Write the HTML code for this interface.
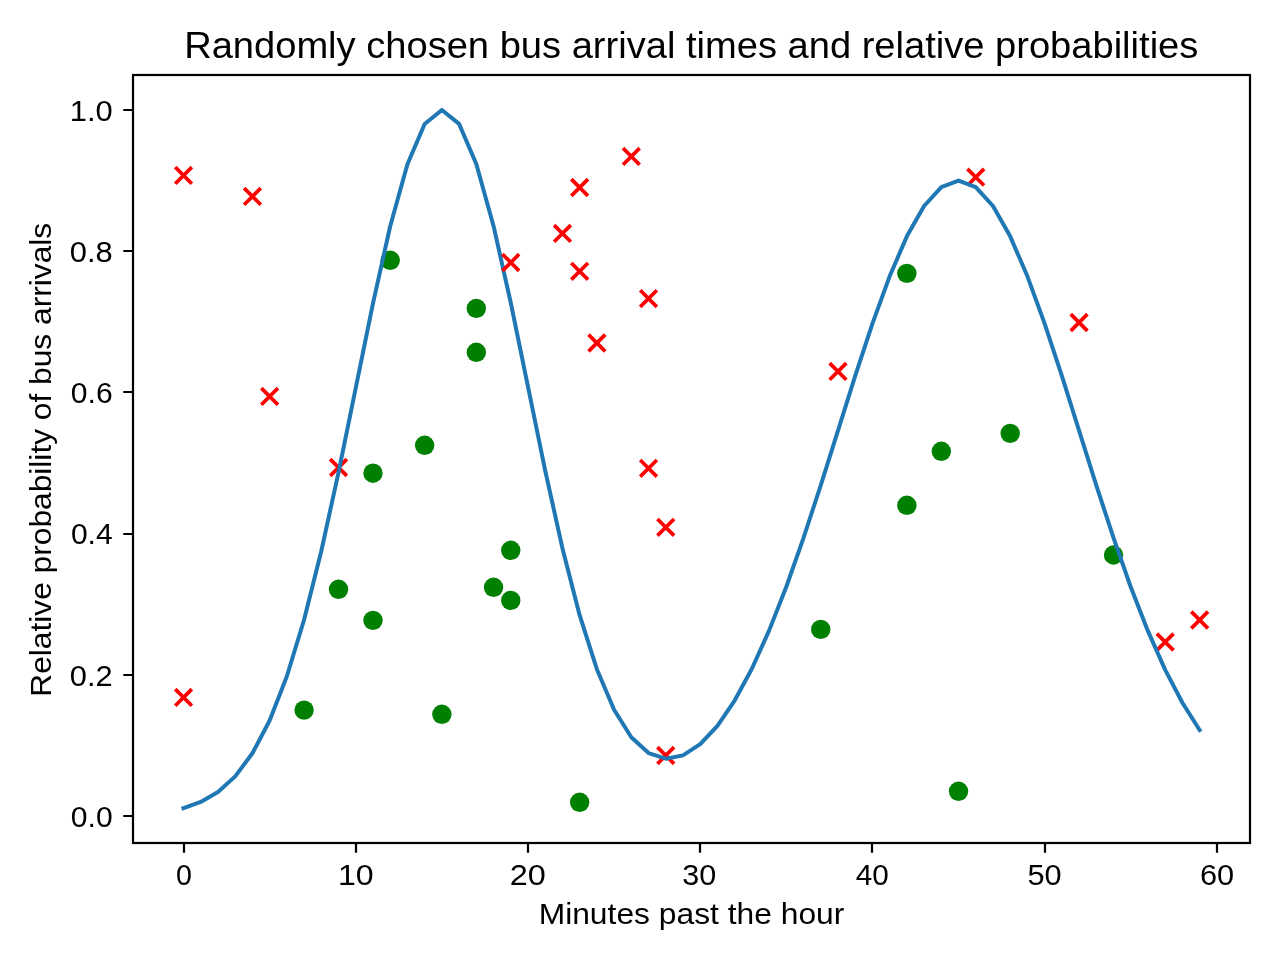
<!DOCTYPE html>
<html><head><meta charset="utf-8"><style>
html,body{margin:0;padding:0;background:#fff;width:1280px;height:960px;overflow:hidden;}
svg{display:block;will-change:transform;}
text{font-family:"Liberation Sans", sans-serif;}
</style></head><body>
<svg width="1280" height="960" viewBox="0 0 1280 960"><rect x="0" y="0" width="1280" height="960" fill="#fff"/><g fill="#008000"><circle cx="304.09" cy="710.1" r="9.7"/><circle cx="338.54" cy="589.3" r="9.7"/><circle cx="372.98" cy="473.2" r="9.7"/><circle cx="372.98" cy="620.4" r="9.7"/><circle cx="390.20" cy="260.3" r="9.7"/><circle cx="424.65" cy="445.3" r="9.7"/><circle cx="441.87" cy="714.3" r="9.7"/><circle cx="476.31" cy="308.4" r="9.7"/><circle cx="476.31" cy="352.3" r="9.7"/><circle cx="493.54" cy="587.3" r="9.7"/><circle cx="510.76" cy="550.3" r="9.7"/><circle cx="510.76" cy="600.4" r="9.7"/><circle cx="579.65" cy="802.3" r="9.7"/><circle cx="820.75" cy="629.4" r="9.7"/><circle cx="906.86" cy="273.4" r="9.7"/><circle cx="906.86" cy="505.3" r="9.7"/><circle cx="941.31" cy="451.3" r="9.7"/><circle cx="958.53" cy="791.3" r="9.7"/><circle cx="1010.20" cy="433.4" r="9.7"/><circle cx="1113.53" cy="555" r="9.7"/></g><g stroke="#ff0000" stroke-width="3.7" fill="none"><path d="M175.21,167.07L191.87,183.73M175.21,183.73L191.87,167.07"/><path d="M175.21,689.07L191.87,705.73M175.21,705.73L191.87,689.07"/><path d="M244.09,188.07L260.76,204.73M244.09,204.73L260.76,188.07"/><path d="M261.32,388.07L277.98,404.73M261.32,404.73L277.98,388.07"/><path d="M330.20,459.17L346.87,475.83M330.20,475.83L346.87,459.17"/><path d="M554.09,225.07L570.76,241.73M554.09,241.73L570.76,225.07"/><path d="M571.31,179.17L587.98,195.83M571.31,195.83L587.98,179.17"/><path d="M571.31,262.97L587.98,279.63M571.31,279.63L587.98,262.97"/><path d="M588.54,334.67L605.20,351.33M588.54,351.33L605.20,334.67"/><path d="M622.98,148.07L639.64,164.73M622.98,164.73L639.64,148.07"/><path d="M640.20,290.27L656.87,306.93M640.20,306.93L656.87,290.27"/><path d="M640.20,459.97L656.87,476.63M640.20,476.63L656.87,459.97"/><path d="M657.42,518.97L674.09,535.63M657.42,535.63L674.09,518.97"/><path d="M657.42,747.17L674.09,763.83M657.42,763.83L674.09,747.17"/><path d="M829.64,363.07L846.31,379.73M829.64,379.73L846.31,363.07"/><path d="M967.42,168.87L984.09,185.53M967.42,185.53L984.09,168.87"/><path d="M1070.75,314.17L1087.42,330.83M1070.75,330.83L1087.42,314.17"/><path d="M1156.86,633.67L1173.53,650.33M1156.86,650.33L1173.53,633.67"/><path d="M1191.31,611.67L1207.97,628.33M1191.31,628.33L1207.97,611.67"/></g><polyline points="183.54,808.16 200.76,801.99 217.98,791.96 235.21,776.37 252.43,753.22 269.65,720.45 286.87,676.28 304.09,619.71 321.32,551.03 338.54,472.35 355.76,387.79 372.98,303.33 390.20,226.29 407.43,164.26 424.65,123.94 441.87,109.93 459.09,123.86 476.31,164.07 493.54,225.93 510.76,302.70 527.98,386.71 545.20,470.57 562.42,548.15 579.65,615.15 596.87,669.22 614.09,709.73 631.31,737.25 648.53,753.08 665.76,758.67 682.98,755.37 700.20,744.19 717.42,725.79 734.64,700.55 751.87,668.73 769.09,630.63 786.31,586.73 803.53,537.87 820.75,485.26 837.98,430.59 855.20,375.93 872.42,323.67 889.64,276.31 906.86,236.35 924.09,206.01 941.31,187.05 958.53,180.60 975.75,187.05 992.97,206.01 1010.20,236.35 1027.42,276.31 1044.64,323.67 1061.86,375.94 1079.08,430.61 1096.31,485.31 1113.53,537.97 1130.75,586.97 1147.97,631.15 1165.19,669.82 1182.42,702.73 1199.64,730.01" fill="none" stroke="#1f77b4" stroke-width="4.0" stroke-linejoin="round" stroke-linecap="square"/><g stroke="#ff0000" stroke-width="3.7" fill="none"><path d="M502.43,254.17L519.09,270.83M502.43,270.83L519.09,254.17"/></g><rect x="133" y="75" width="1117" height="768" fill="none" stroke="#000" stroke-width="2.22" stroke-linejoin="miter"/><path d="M184,843V852.7M356,843V852.7M528,843V852.7M700,843V852.7M872,843V852.7M1045,843V852.7M1217,843V852.7M133,816H123.3M133,675H123.3M133,534H123.3M133,392H123.3M133,251H123.3M133,110H123.3" stroke="#000" stroke-width="2.22" fill="none"/><g font-family="Liberation Sans, sans-serif" font-size="30.4" fill="#000"><text x="184.00" y="884.7" text-anchor="middle" textLength="15.88" lengthAdjust="spacingAndGlyphs">0</text><text x="355.82" y="884.7" text-anchor="middle" textLength="35.76" lengthAdjust="spacingAndGlyphs">10</text><text x="527.79" y="884.7" text-anchor="middle" textLength="36.09" lengthAdjust="spacingAndGlyphs">20</text><text x="699.16" y="884.7" text-anchor="middle" textLength="33.96" lengthAdjust="spacingAndGlyphs">30</text><text x="872.38" y="884.7" text-anchor="middle" textLength="33.05" lengthAdjust="spacingAndGlyphs">40</text><text x="1044.60" y="884.7" text-anchor="middle" textLength="34.14" lengthAdjust="spacingAndGlyphs">50</text><text x="1217.07" y="884.7" text-anchor="middle" textLength="34.18" lengthAdjust="spacingAndGlyphs">60</text><text x="112.67" y="826.80" text-anchor="end" textLength="41.84" lengthAdjust="spacingAndGlyphs">0.0</text><text x="112.67" y="685.60" text-anchor="end" textLength="42.86" lengthAdjust="spacingAndGlyphs">0.2</text><text x="112.67" y="544.40" text-anchor="end" textLength="41.76" lengthAdjust="spacingAndGlyphs">0.4</text><text x="112.67" y="403.20" text-anchor="end" textLength="41.81" lengthAdjust="spacingAndGlyphs">0.6</text><text x="112.67" y="262.00" text-anchor="end" textLength="42.89" lengthAdjust="spacingAndGlyphs">0.8</text><text x="112.67" y="120.80" text-anchor="end" textLength="42.94" lengthAdjust="spacingAndGlyphs">1.0</text></g><text x="691.25" y="57.5" text-anchor="middle" font-family="Liberation Sans, sans-serif" font-size="36" textLength="1014.19" lengthAdjust="spacingAndGlyphs">Randomly chosen bus arrival times and relative probabilities</text><text x="691.50" y="923.75" text-anchor="middle" font-family="Liberation Sans, sans-serif" font-size="29.5" textLength="305.67" lengthAdjust="spacingAndGlyphs">Minutes past the hour</text><text transform="translate(50.8,459.80) rotate(-90)" x="0" y="0" text-anchor="middle" font-family="Liberation Sans, sans-serif" font-size="29.5" textLength="473.93" lengthAdjust="spacingAndGlyphs">Relative probability of bus arrivals</text></svg>
</body></html>
